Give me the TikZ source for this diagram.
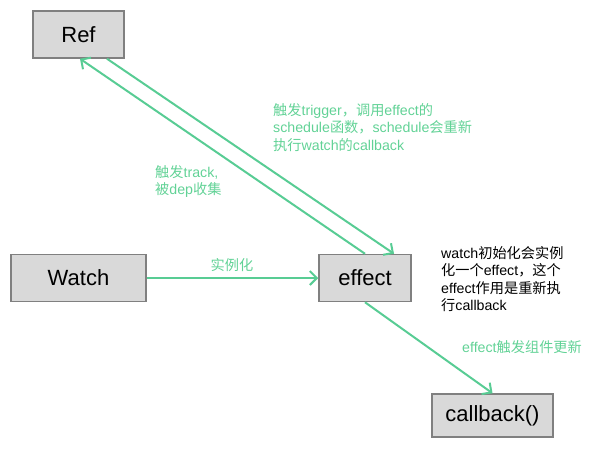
\documentclass[tikz,border=0pt]{standalone}
\usepackage{fontspec}
\setmainfont{Liberation Sans}
\newfontfamily\cjk{Noto Sans CJK SC}
\usetikzlibrary{arrows.meta}
\definecolor{boxfill}{RGB}{217,217,217}
\definecolor{boxline}{RGB}{128,128,128}
\definecolor{lgreen}{RGB}{88,204,148}
\definecolor{tgreen}{RGB}{98,210,150}
\tikzset{
  blk/.style={draw=boxline, fill=boxfill, line width=1.5pt, inner sep=0pt, font=\fontsize{22}{26}\selectfont},
  conn/.style={draw=lgreen, line width=2pt, -{Straight Barb[length=7pt,width=14pt,line width=2pt]}},
  lbl/.style={text=tgreen, font=\fontsize{14.2}{17.5}\selectfont, align=left, inner sep=0pt},
  note/.style={text=black, font=\fontsize{14.2}{17.5}\selectfont, align=left, inner sep=0pt}
}
\begin{document}
\begin{tikzpicture}[x=1pt,y=-1pt]
\useasboundingbox (0,0) rectangle (604,459);
\node[blk, minimum width=91pt, minimum height=47pt] (ref) at (78.5,34.5) {Ref};
\node[blk, minimum width=135pt, minimum height=47pt] (watch) at (78.5,278) {Watch};
\node[blk, minimum width=92pt, minimum height=47pt] (effect) at (365,278) {effect};
\node[blk, minimum width=121pt, minimum height=43pt] (cb) at (492.5,415.5) {callback()};

\draw[conn] (watch.east) -- (effect.west);
\draw[conn] ([xshift=28.5pt]ref.south) -- ([xshift=29pt]effect.north);
\draw[conn] (effect.north) -- ([xshift=1.5pt]ref.south);
\draw[conn] (effect.south) -- (cb.north);

\node[lbl, anchor=center] (l1) at (232,265) {{\cjk 实例化}};
\node[lbl, anchor=north west] (l2) at (273,103) {{\cjk 触发}trigger{\cjk ，调用}effect{\cjk 的}\\schedule{\cjk 函数，}schedule{\cjk 会重新}\\{\cjk 执行}watch{\cjk 的}callback};
\node[lbl, anchor=north west] (l3) at (155,165) {{\cjk 触发}track,\\{\cjk 被}dep{\cjk 收集}};
\node[note, anchor=north west] (n1) at (441,246) {watch{\cjk 初始化会实例}\\{\cjk 化一个}effect{\cjk ，这个}\\effect{\cjk 作用是重新执}\\{\cjk 行}callback};
\node[lbl, anchor=west] (l4) at (462,347) {effect{\cjk 触发组件更新}};
\end{tikzpicture}
\end{document}
